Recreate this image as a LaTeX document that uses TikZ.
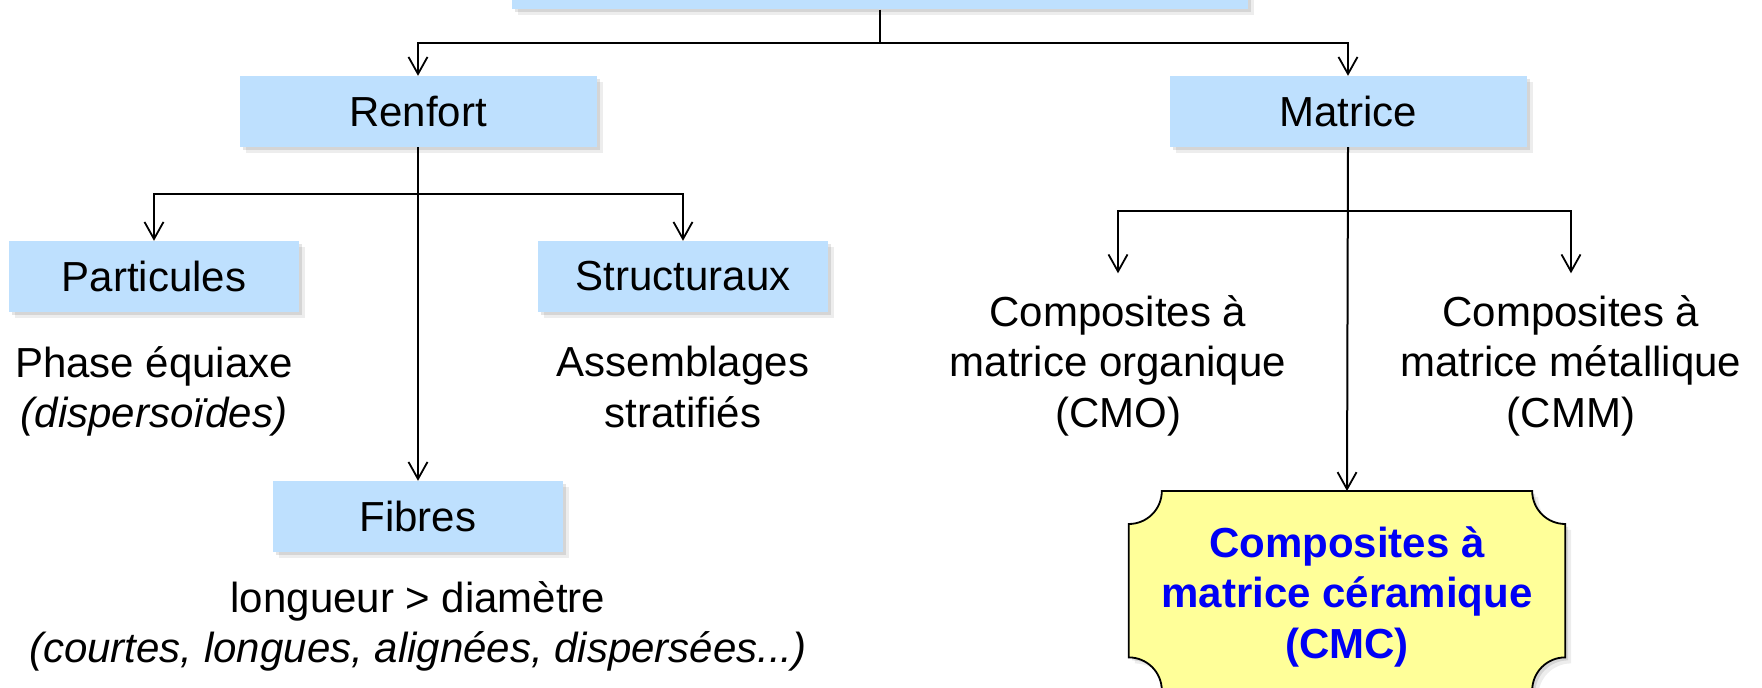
\documentclass[tikz,border=0pt]{standalone}
\usepackage{fontspec}
\setmainfont{Liberation Sans}
\usetikzlibrary{arrows.meta,shadows,backgrounds,calc}
\definecolor{boxblue}{RGB}{190,224,254}
\definecolor{cmcyellow}{RGB}{255,255,153}
\definecolor{cmcblue}{RGB}{0,0,245}
\tikzset{
  bigfont/.style={font=\fontsize{42}{50.5}\selectfont},
  softshadow/.style={
    general shadow={fill=black, opacity=0.10, shadow xshift=3pt, shadow yshift=-3pt},
    general shadow={fill=black, opacity=0.07, shadow xshift=6pt, shadow yshift=-6pt}},
  bluebox/.style={fill=boxblue, inner sep=0pt, bigfont, softshadow},
  txt/.style={align=center, inner sep=0pt, bigfont},
  cmctxt/.style={align=center, inner sep=0pt, text=cmcblue,
    font=\fontsize{42}{50.5}\selectfont\bfseries},
  plain/.style={line width=2pt},
  conn/.style={line width=2pt, -{Straight Barb[length=17pt,width=19pt,line width=1.8pt]}},
}
\begin{document}
\begin{tikzpicture}[x=1pt,y=1pt]
\useasboundingbox (0,0) rectangle (1762,688);

% boxes
\node[bluebox, minimum width=736pt, minimum height=110pt] (top) at (880,733.5) {};
\node[bluebox, minimum width=357pt, minimum height=71pt] (renfort) at (418,576.5) {Renfort};
\node[bluebox, minimum width=357pt, minimum height=71pt] (matrice) at (1348,576.5) {Matrice};
\node[bluebox, minimum width=290pt, minimum height=71pt] (part) at (154,411.5) {Particules};
\node[bluebox, minimum width=290pt, minimum height=71pt] (struct) at (683,411.5) {Structuraux};
\node[bluebox, minimum width=290pt, minimum height=71pt] (fibres) at (418,171.5) {Fibres};

% texts
\node[txt, anchor=north] (parttxt) at (154,341.7) {Phase équiaxe\\\textit{(dispersoïdes)}};
\node[txt, anchor=north] (structtxt) at (683,341.7) {Assemblages\\stratifiés};
\node[txt, anchor=north] (fibtxt) at (418,106.7) {longueur > diamètre\\\textit{(courtes, longues, alignées, dispersées...)}};
\node[txt, anchor=north] (cmo) at (1118,392.7) {Composites à\\matrice organique\\(CMO)};
\node[txt, anchor=north] (cmm) at (1571,392.7) {Composites à\\matrice métallique\\(CMM)};

% CMC box
\node[minimum width=436pt, minimum height=199pt, inner sep=0pt, anchor=north] (cmc) at (1347,197) {};
\node[cmctxt] (cmctext) at ([yshift=-6pt]cmc.center) {Composites à\\matrice céramique\\(CMC)};
\begin{scope}[on background layer]
\filldraw[fill=cmcyellow, draw=black, line width=1.8pt, softshadow]
  let \p1=(cmc.north west), \p2=(cmc.south east) in
  ({\x1+33pt},\y1) -- ({\x2-33pt},\y1)
  arc[start angle=180, end angle=270, radius=33pt]
  -- (\x2,{\y2+33pt})
  arc[start angle=90, end angle=180, radius=33pt]
  -- ({\x1+33pt},\y2)
  arc[start angle=0, end angle=90, radius=33pt]
  -- (\x1,{\y1-33pt})
  arc[start angle=270, end angle=360, radius=33pt]
  -- cycle;
\end{scope}

% connectors
\coordinate (j0) at (880,645.3);
\coordinate (j1) at (418,494);
\coordinate (j2) at (1348,477);
\draw[plain] (top.south) -- (j0);
\draw[conn] (j0) -| (renfort.north);
\draw[conn] (j0) -| (matrice.north);
\draw[conn] (renfort.south) -- (fibres.north);
\draw[conn] (j1) -| (part.north);
\draw[conn] (j1) -| (struct.north);
\draw[conn] (matrice.south) -- (cmc.north);
\draw[conn, shorten >=22pt] (j2) -| (cmo.north);
\draw[conn, shorten >=22pt] (j2) -| (cmm.north);
\end{tikzpicture}
\end{document}
